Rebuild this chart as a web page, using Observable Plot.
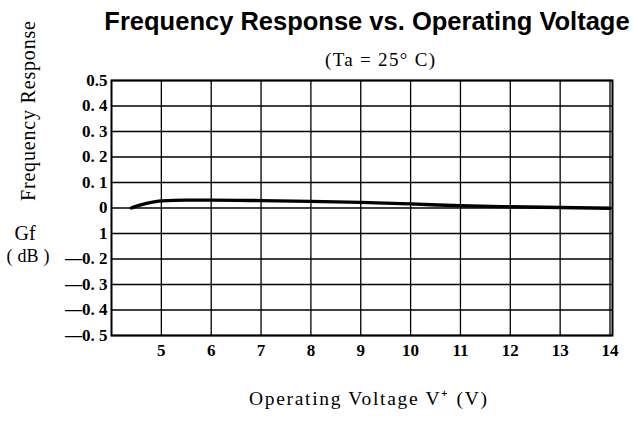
<!DOCTYPE html>
<html><head><meta charset="utf-8">
<script src="https://cdn.jsdelivr.net/npm/d3@7"></script>
<script src="https://cdn.jsdelivr.net/npm/@observablehq/plot@0.6"></script>
<style>
body{margin:0;background:#fff}
#wrap{width:634px;height:422px}
</style></head>
<body><div id="wrap"></div>
<script>
// Data
const voltage = [4.4, 4.55, 4.7, 4.85, 5.0, 5.5, 6.0, 7.0, 8.0, 9.0, 10.0, 11.0, 12.0, 13.0, 14.0];
const gain    = [0.0, 0.010, 0.018, 0.024, 0.028, 0.031, 0.031, 0.029, 0.026, 0.022, 0.016, 0.009, 0.005, 0.002, -0.001];
const xTicks = [5, 6, 7, 8, 9, 10, 11, 12, 13, 14];
const yTicks = [0.5, 0.4, 0.3, 0.2, 0.1, 0, -0.1, -0.2, -0.3, -0.4, -0.5];
const yTickLabels = ["0.5", "0. 4", "0. 3", "0. 2", "0. 1", "0", "1", "—0. 2", "—0. 3", "—0. 4", "—0. 5"];
const title = "Frequency Response vs. Operating Voltage";
const subtitle = "(Ta = 25° C)";
const xLabel = "Operating Voltage V⁺ (V)";
const yLabel = "Frequency Response";
const unitLabel1 = "Gf";
const unitLabel2 = "( dB )";

const data = voltage.map((v, i) => ({v, g: gain[i]}));
const yLabelMap = new Map(yTicks.map((t, i) => [t, yTickLabels[i]]));

const chart = Plot.plot({
  width: 634, height: 422,
  marginTop: 80, marginLeft: 111, marginRight: 22, marginBottom: 87,
  style: {fontFamily: "'Liberation Serif', serif", fontSize: "16px", color: "black", background: "white"},
  x: {domain: [4, 14.05]},
  y: {domain: [-0.5, 0.5]},
  marks: [
    Plot.ruleX(xTicks, {stroke: "black", strokeWidth: 1.3}),
    Plot.ruleY(yTicks, {stroke: "black", strokeWidth: 1.3}),
    Plot.frame({stroke: "black", strokeWidth: 2}),
    Plot.line(data, {x: "v", y: "g", stroke: "black", strokeWidth: 3.4, curve: "monotone-x"}),
    Plot.axisX(xTicks, {tickSize: 0, tickPadding: 8, label: null, tickFormat: d => String(d), fontWeight: "bold", fontSize: 17}),
    Plot.axisY(yTicks, {tickSize: 0, tickPadding: 4, label: null, tickFormat: d => yLabelMap.get(d), fontWeight: "bold", fontSize: 17})
  ]
});
document.getElementById("wrap").appendChild(chart);

const svg = d3.select(chart);
svg.append("text").attr("x", 367).attr("y", 30).attr("text-anchor", "middle")
  .attr("font-family", "'Liberation Sans', Arial, sans-serif").attr("font-weight", "bold")
  .attr("font-size", 25.5).attr("fill", "black").text(title);
svg.append("text").attr("x", 380).attr("y", 66).attr("text-anchor", "middle")
  .attr("font-family", "'Liberation Serif', serif").attr("font-size", 19).attr("fill", "black")
  .attr("textLength", 110).attr("lengthAdjust", "spacing").text(subtitle);
svg.append("text").attr("transform", "translate(35,111) rotate(-90)").attr("text-anchor", "middle")
  .attr("font-family", "'Liberation Serif', serif").attr("font-size", 20).attr("fill", "black")
  .attr("textLength", 180).attr("lengthAdjust", "spacing").text(yLabel);
svg.append("text").attr("x", 25).attr("y", 240).attr("text-anchor", "middle")
  .attr("font-family", "'Liberation Serif', serif").attr("font-size", 20).attr("fill", "black").text(unitLabel1);
svg.append("text").attr("x", 28).attr("y", 262).attr("text-anchor", "middle")
  .attr("font-family", "'Liberation Serif', serif").attr("font-size", 18).attr("fill", "black")
  .attr("textLength", 43).attr("lengthAdjust", "spacing").text(unitLabel2);
svg.append("text").attr("x", 368).attr("y", 405).attr("text-anchor", "middle")
  .attr("font-family", "'Liberation Serif', serif").attr("font-size", 19.5).attr("fill", "black")
  .attr("textLength", 238).attr("lengthAdjust", "spacing").text(xLabel);
</script>
</body></html>
